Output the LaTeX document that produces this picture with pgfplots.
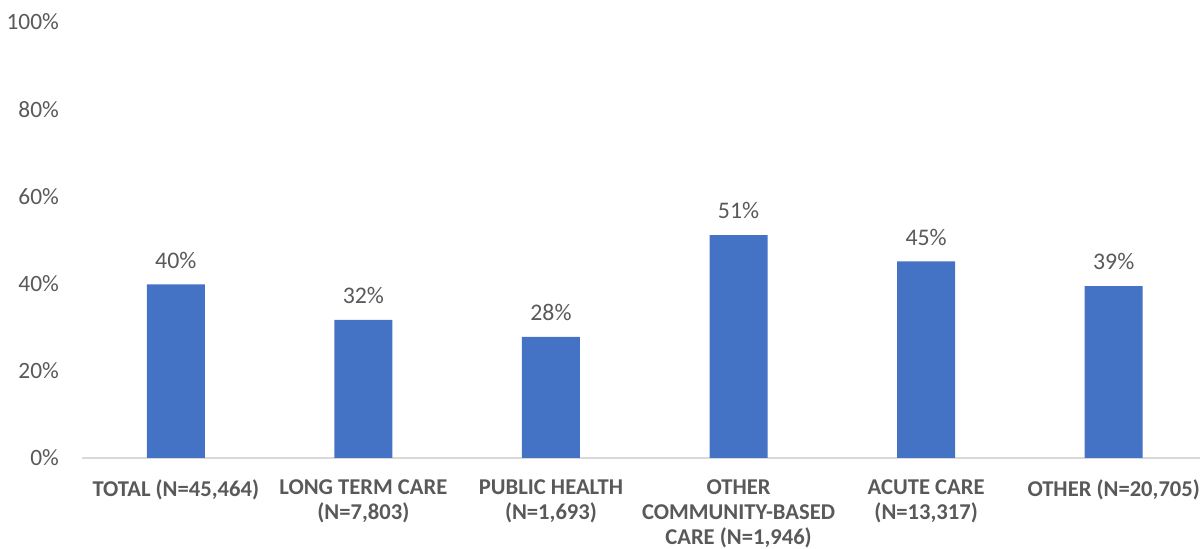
\documentclass[border=0pt]{standalone}
\usepackage{pgfplots}
\pgfplotsset{compat=1.18}
\usepackage{fontspec}
\setmainfont{Carlito}
\definecolor{barblue}{HTML}{4472C4}
\definecolor{txtgray}{HTML}{595959}
\definecolor{axgray}{HTML}{D9D9D9}
\begin{document}
\begin{tikzpicture}
\path[use as bounding box] (-41pt,-45.5pt) rectangle (559pt,229pt);
\begin{axis}[
  at={(0,0)}, anchor=south west,
  scale only axis,
  width=559pt, height=218pt,
  xmin=-0.5, xmax=5.46,
  ymin=0, ymax=100,
  ytick={0,20,40,60,80,100},
  yticklabel={\pgfmathprintnumber{\tick}\%},
  /pgf/number format/assume math mode=true,
  yticklabel style={font=\fontsize{11.7pt}{13pt}\selectfont, text=txtgray, xshift=-8pt},
  xtick={0,1,2,3,4,5},
  xticklabels={{TOTAL (N=45,464)},{LONG TERM CARE\\(N=7,803)},{PUBLIC HEALTH\\(N=1,693)},{OTHER\\COMMUNITY-BASED\\CARE (N=1,946)},{ACUTE CARE\\(N=13,317)},{OTHER (N=20,705)}},
  xticklabel style={font=\fontsize{11.3pt}{12.5pt}\selectfont\bfseries, text=txtgray, align=center, anchor=north, yshift=-7.5pt},
  major tick length=0pt,
  axis x line*=bottom,
  axis y line*=left,
  y axis line style={draw=none},
  x axis line style={axgray, line width=0.8pt, -},
  ybar, bar width=29pt,
  nodes near coords={\pgfmathprintnumber[fixed,precision=0]{\pgfplotspointmeta}\%},
  nodes near coords style={font=\fontsize{11.9pt}{13pt}\selectfont, text=txtgray, yshift=4.5pt},
  clip=false,
]
\addplot[fill=barblue, draw=none] coordinates {(0,39.8) (1,31.7) (2,27.8) (3,51.1) (4,45.1) (5,39.4)};
\end{axis}
\end{tikzpicture}
\end{document}
